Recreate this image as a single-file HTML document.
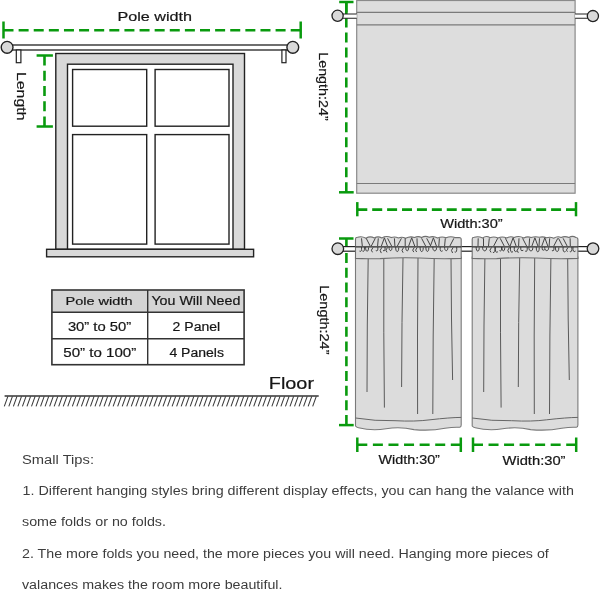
<!DOCTYPE html>
<html><head><meta charset="utf-8"><style>
html,body{margin:0;padding:0;background:#fff;width:600px;height:590px;overflow:hidden}
svg{display:block;will-change:transform;font-family:"Liberation Sans",sans-serif}
</style></head><body>
<svg width="600" height="590" viewBox="0 0 600 590">
<path d="M3.50 30.20L13.50 30.20M18.62 30.20L28.62 30.20M33.73 30.20L43.73 30.20M48.85 30.20L58.85 30.20M63.96 30.20L73.96 30.20M79.08 30.20L89.08 30.20M94.19 30.20L104.19 30.20M109.31 30.20L119.31 30.20M124.43 30.20L134.43 30.20M139.54 30.20L149.54 30.20M154.66 30.20L164.66 30.20M169.77 30.20L179.77 30.20M184.89 30.20L194.89 30.20M200.01 30.20L210.01 30.20M215.12 30.20L225.12 30.20M230.24 30.20L240.24 30.20M245.35 30.20L255.35 30.20M260.47 30.20L270.47 30.20M275.58 30.20L285.58 30.20M290.70 30.20L300.70 30.20" stroke="#099a0e" stroke-width="2.6" fill="none"/>
<line x1="3.5" y1="21.5" x2="3.5" y2="38.5" stroke="#099a0e" stroke-width="2.5"/>
<line x1="300.7" y1="21.5" x2="300.7" y2="38.5" stroke="#099a0e" stroke-width="2.5"/>
<text x="117.5" y="21" font-size="13" textLength="74.5" lengthAdjust="spacingAndGlyphs" fill="#161616"  stroke="#161616" stroke-width="0.2">Pole width</text>
<rect x="8" y="45" width="285" height="5" fill="#fff" stroke="#222" stroke-width="1.3"/>
<rect x="16.3" y="50" width="4.6" height="12.7" fill="#fff" stroke="#222" stroke-width="1.2"/>
<rect x="281.9" y="50" width="4.1" height="12.7" fill="#fff" stroke="#222" stroke-width="1.2"/>
<circle cx="7.1" cy="47.3" r="5.9" fill="#d9d9d9" stroke="#222" stroke-width="1.4"/>
<circle cx="292.8" cy="47.3" r="5.9" fill="#d9d9d9" stroke="#222" stroke-width="1.4"/>
<line x1="36.6" y1="55.5" x2="52.9" y2="55.5" stroke="#099a0e" stroke-width="2.5"/>
<path d="M44.50 55.50L44.50 65.50M44.50 70.75L44.50 80.75M44.50 86.00L44.50 96.00M44.50 101.25L44.50 111.25M44.50 116.50L44.50 126.50" stroke="#099a0e" stroke-width="2.6" fill="none"/>
<line x1="36.6" y1="126.5" x2="52.9" y2="126.5" stroke="#099a0e" stroke-width="2.5"/>
<text transform="translate(16.6,71.9) rotate(90)" font-size="13.5" textLength="48.6" lengthAdjust="spacingAndGlyphs" fill="#161616" stroke="#161616" stroke-width="0.2">Length</text>
<rect x="55.8" y="53.5" width="188.7" height="195.8" fill="#d9d9d9" stroke="#222" stroke-width="1.4"/>
<rect x="67.5" y="64.2" width="165.5" height="185.1" fill="#fff" stroke="#222" stroke-width="1.4"/>
<rect x="72.6" y="69.5" width="74.1" height="56.7" fill="#fff" stroke="#222" stroke-width="1.4"/>
<rect x="155.1" y="69.5" width="73.9" height="56.7" fill="#fff" stroke="#222" stroke-width="1.4"/>
<rect x="72.6" y="134.6" width="74.1" height="109.5" fill="#fff" stroke="#222" stroke-width="1.4"/>
<rect x="155.1" y="134.6" width="73.9" height="109.5" fill="#fff" stroke="#222" stroke-width="1.4"/>
<rect x="46.6" y="249.3" width="207" height="7.5" fill="#d9d9d9" stroke="#222" stroke-width="1.4"/>
<rect x="51.9" y="290" width="192.2" height="22.2" fill="#d4d4d4"/>
<rect x="51.9" y="290" width="192.2" height="74.7" fill="none" stroke="#333" stroke-width="1.6"/>
<line x1="51.9" y1="312.2" x2="244.1" y2="312.2" stroke="#333" stroke-width="1.4"/>
<line x1="51.9" y1="338.7" x2="244.1" y2="338.7" stroke="#333" stroke-width="1.4"/>
<line x1="147.7" y1="290" x2="147.7" y2="364.7" stroke="#333" stroke-width="1.4"/>
<text x="65.5" y="305.2" font-size="11.6" textLength="67" lengthAdjust="spacingAndGlyphs" fill="#161616"  stroke="#161616" stroke-width="0.2">Pole width</text>
<text x="151.4" y="305.1" font-size="12.5" textLength="89" lengthAdjust="spacingAndGlyphs" fill="#161616"  stroke="#161616" stroke-width="0.2">You Will Need</text>
<text x="67.9" y="330.5" font-size="12.4" textLength="63.3" lengthAdjust="spacingAndGlyphs" fill="#161616"  stroke="#161616" stroke-width="0.2">30&#8221; to 50&#8221;</text>
<text x="172.6" y="331" font-size="12.5" textLength="47.6" lengthAdjust="spacingAndGlyphs" fill="#161616"  stroke="#161616" stroke-width="0.2">2 Panel</text>
<text x="63.3" y="356.5" font-size="12.4" textLength="73" lengthAdjust="spacingAndGlyphs" fill="#161616"  stroke="#161616" stroke-width="0.2">50&#8221; to 100&#8221;</text>
<text x="169.4" y="356.7" font-size="12.5" textLength="54.6" lengthAdjust="spacingAndGlyphs" fill="#161616"  stroke="#161616" stroke-width="0.2">4 Panels</text>
<text x="268.8" y="389.4" font-size="15.8" textLength="45.2" lengthAdjust="spacingAndGlyphs" fill="#161616"  stroke="#161616" stroke-width="0.2">Floor</text>
<line x1="4.6" y1="395.9" x2="318.7" y2="395.9" stroke="#333" stroke-width="1.5"/>
<path d="M7.90 396.4L4.30 406.4 M12.44 396.4L8.84 406.4 M16.97 396.4L13.37 406.4 M21.51 396.4L17.91 406.4 M26.04 396.4L22.44 406.4 M30.58 396.4L26.98 406.4 M35.11 396.4L31.51 406.4 M39.65 396.4L36.05 406.4 M44.18 396.4L40.58 406.4 M48.71 396.4L45.11 406.4 M53.25 396.4L49.65 406.4 M57.79 396.4L54.19 406.4 M62.32 396.4L58.72 406.4 M66.85 396.4L63.25 406.4 M71.39 396.4L67.79 406.4 M75.92 396.4L72.33 406.4 M80.46 396.4L76.86 406.4 M84.99 396.4L81.39 406.4 M89.53 396.4L85.93 406.4 M94.06 396.4L90.47 406.4 M98.60 396.4L95.00 406.4 M103.13 396.4L99.53 406.4 M107.67 396.4L104.07 406.4 M112.20 396.4L108.61 406.4 M116.74 396.4L113.14 406.4 M121.27 396.4L117.67 406.4 M125.81 396.4L122.21 406.4 M130.34 396.4L126.75 406.4 M134.88 396.4L131.28 406.4 M139.42 396.4L135.82 406.4 M143.95 396.4L140.35 406.4 M148.49 396.4L144.89 406.4 M153.02 396.4L149.42 406.4 M157.56 396.4L153.96 406.4 M162.09 396.4L158.49 406.4 M166.62 396.4L163.03 406.4 M171.16 396.4L167.56 406.4 M175.70 396.4L172.10 406.4 M180.23 396.4L176.63 406.4 M184.77 396.4L181.17 406.4 M189.30 396.4L185.70 406.4 M193.84 396.4L190.24 406.4 M198.37 396.4L194.77 406.4 M202.91 396.4L199.31 406.4 M207.44 396.4L203.84 406.4 M211.98 396.4L208.38 406.4 M216.51 396.4L212.91 406.4 M221.05 396.4L217.45 406.4 M225.58 396.4L221.98 406.4 M230.12 396.4L226.52 406.4 M234.65 396.4L231.05 406.4 M239.19 396.4L235.59 406.4 M243.72 396.4L240.12 406.4 M248.26 396.4L244.66 406.4 M252.79 396.4L249.19 406.4 M257.33 396.4L253.73 406.4 M261.86 396.4L258.26 406.4 M266.40 396.4L262.80 406.4 M270.93 396.4L267.33 406.4 M275.47 396.4L271.87 406.4 M280.00 396.4L276.40 406.4 M284.54 396.4L280.94 406.4 M289.07 396.4L285.47 406.4 M293.61 396.4L290.00 406.4 M298.14 396.4L294.54 406.4 M302.68 396.4L299.08 406.4 M307.21 396.4L303.61 406.4 M311.75 396.4L308.15 406.4 M316.28 396.4L312.68 406.4" stroke="#3a3a3a" stroke-width="1.05" fill="none"/>
<rect x="356.7" y="0.5" width="218.4" height="192.7" fill="#dddddd" stroke="#8a8a8a" stroke-width="1.2"/>
<line x1="356.7" y1="12.3" x2="575.1" y2="12.3" stroke="#7a7a7a" stroke-width="1.2"/>
<line x1="356.7" y1="24.9" x2="575.1" y2="24.9" stroke="#7a7a7a" stroke-width="1.4"/>
<line x1="356.7" y1="183.5" x2="575.1" y2="183.5" stroke="#7a7a7a" stroke-width="1.1"/>
<path d="M346.30 2.50L346.30 12.50M346.30 17.48L346.30 27.48M346.30 32.47L346.30 42.47M346.30 47.45L346.30 57.45M346.30 62.43L346.30 72.43M346.30 77.42L346.30 87.42M346.30 92.40L346.30 102.40M346.30 107.38L346.30 117.38M346.30 122.37L346.30 132.37M346.30 137.35L346.30 147.35M346.30 152.33L346.30 162.33M346.30 167.32L346.30 177.32M346.30 182.30L346.30 192.30" stroke="#099a0e" stroke-width="2.6" fill="none"/>
<line x1="346.3" y1="2.5" x2="346.3" y2="18" stroke="#099a0e" stroke-width="2.6"/>
<rect x="342" y="14" width="14.7" height="4.3" fill="#fff"/><path d="M342 14H356.7M342 18.3H356.7" stroke="#222" stroke-width="1.1"/>
<rect x="575.1" y="14" width="13" height="4.3" fill="#fff"/><path d="M575.1 14H588M575.1 18.3H588" stroke="#222" stroke-width="1.1"/>
<line x1="339.2" y1="2" x2="353.5" y2="2" stroke="#099a0e" stroke-width="2.5"/>
<line x1="339" y1="192.3" x2="353.7" y2="192.3" stroke="#099a0e" stroke-width="2.5"/>
<circle cx="337.6" cy="15.8" r="5.6" fill="#d9d9d9" stroke="#222" stroke-width="1.3"/>
<circle cx="592.9" cy="16.1" r="5.6" fill="#d9d9d9" stroke="#222" stroke-width="1.3"/>
<text transform="translate(319.4,52.2) rotate(90)" font-size="12.8" textLength="68.5" lengthAdjust="spacingAndGlyphs" fill="#161616" stroke="#161616" stroke-width="0.2">Length:24&#8221;</text>
<path d="M357.30 209.60L367.30 209.60M372.21 209.60L382.21 209.60M387.11 209.60L397.11 209.60M402.02 209.60L412.02 209.60M416.93 209.60L426.93 209.60M431.84 209.60L441.84 209.60M446.74 209.60L456.74 209.60M461.65 209.60L471.65 209.60M476.56 209.60L486.56 209.60M491.46 209.60L501.46 209.60M506.37 209.60L516.37 209.60M521.28 209.60L531.28 209.60M536.19 209.60L546.19 209.60M551.09 209.60L561.09 209.60M566.00 209.60L576.00 209.60" stroke="#099a0e" stroke-width="2.6" fill="none"/>
<line x1="357.3" y1="202.1" x2="357.3" y2="216.3" stroke="#099a0e" stroke-width="2.5"/>
<line x1="576" y1="202.1" x2="576" y2="216.3" stroke="#099a0e" stroke-width="2.5"/>
<text x="440.2" y="227.5" font-size="12" textLength="62.5" lengthAdjust="spacingAndGlyphs" fill="#161616"  stroke="#161616" stroke-width="0.2">Width:30&#8221;</text>
<path d="M346.40 238.30L346.40 248.30M346.40 253.03L346.40 263.03M346.40 267.77L346.40 277.77M346.40 282.50L346.40 292.50M346.40 297.23L346.40 307.23M346.40 311.97L346.40 321.97M346.40 326.70L346.40 336.70M346.40 341.43L346.40 351.43M346.40 356.17L346.40 366.17M346.40 370.90L346.40 380.90M346.40 385.63L346.40 395.63M346.40 400.37L346.40 410.37M346.40 415.10L346.40 425.10" stroke="#099a0e" stroke-width="2.6" fill="none"/>
<line x1="339" y1="238.5" x2="353.5" y2="238.5" stroke="#099a0e" stroke-width="2.5"/>
<line x1="339" y1="425.1" x2="353.7" y2="425.1" stroke="#099a0e" stroke-width="2.5"/>
<rect x="342" y="246.6" width="248" height="4.6" fill="#fff" stroke="#222" stroke-width="1.2"/>
<circle cx="337.8" cy="248.7" r="5.8" fill="#d9d9d9" stroke="#222" stroke-width="1.3"/>
<circle cx="593" cy="248.6" r="5.8" fill="#d9d9d9" stroke="#222" stroke-width="1.3"/>
<text transform="translate(319.9,285.2) rotate(90)" font-size="12.8" textLength="69.3" lengthAdjust="spacingAndGlyphs" fill="#161616" stroke="#161616" stroke-width="0.2">Length:24&#8221;</text>
<path d="M355.5 257 L355.5 426 Q356.5 427.5 358.5 427.8 Q372 431 386 428.8 Q400 426.5 414 429.6 Q430 431.2 445 428.3 Q454 426.8 459.7 427.3 Q461.2 427 461.2 425 L461.2 257 Z" fill="#dcdcdc" stroke="#7a7a7a" stroke-width="1.1"/><path d="M355.5 418 Q375 421.2 395 420.7 Q415 421.8 430 419.8 Q450 417.5 461.2 417.4" fill="none" stroke="#666" stroke-width="1"/><path d="M368.2 258 Q367.0 325.0 367 392" stroke="#5a5a5a" stroke-width="1" fill="none"/><path d="M383.8 258 Q383.5 332.8 384.4 407.6" stroke="#5a5a5a" stroke-width="1" fill="none"/><path d="M403 258 Q401.7 322.5 401.6 387" stroke="#5a5a5a" stroke-width="1" fill="none"/><path d="M418 258 Q417.2 336.0 417.6 414" stroke="#5a5a5a" stroke-width="1" fill="none"/><path d="M434.2 258 Q432.9 336.0 432.8 414" stroke="#5a5a5a" stroke-width="1" fill="none"/><path d="M451 258 Q451.2 319.0 452.6 380" stroke="#5a5a5a" stroke-width="1" fill="none"/><path d="M355.5 258.4 L355.5 239 Q355.5 237.3 357.5 237.3Q361.7 235.9 365.9 238.2Q370.1 235.8 374.3 237.9Q378.0 235.8 381.8 237.9Q386.5 235.3 391.2 237.6Q394.8 236.2 398.5 238.0Q402.0 236.4 405.6 238.3Q410.1 235.9 414.5 237.5Q418.1 235.8 421.6 237.4Q425.4 235.5 429.2 237.3Q433.4 235.7 437.6 238.1Q441.8 236.0 446.1 237.8Q450.6 235.7 455.1 237.6L459.2 237.5 Q461.2 237.5 461.2 239.5 L461.2 258.4 Q440 259.2 420 258 Q400 257.2 380 258.6 Q365 259 355.5 258.4 Z" fill="#dcdcdc" stroke="#6f6f6f" stroke-width="1.1"/><path d="M355.5 246.8 L461.2 246.8" stroke="#2a2a2a" stroke-width="1.2"/><path d="M361.5 238.3 L362.3 246 M366.2 238.3 L370.2 246 M375.3 238.3 L371.3 246 M378.3 238.3 L377.6 246 M381.4 246 L384.4 237.8 L387.4 246 M387.6 238.3 L391.6 246 M394.4 238.3 L394.9 246 M401.4 238.3 L397.4 246 M405.2 238.3 L405.2 246 M408.7 246 L411.7 237.8 L414.7 246 M417.0 238.3 L417.2 246 M421.6 238.3 L425.6 246 M426.7 238.3 L430.7 246 M430.4 246 L433.4 237.8 L436.4 246 M439.4 238.3 L438.8 246 M445.3 238.3 L444.6 246 M453.9 238.3 L449.9 246" stroke="#444" stroke-width="1" fill="none" stroke-linejoin="round"/><path d="M361.5 247 Q362.0 252.6 359.5 251.1 M364.4 247 Q364.9 252.5 362.4 251.0 M365.6 247 C365.3 252.6 368.8 252.6 368.5 247.5 M373.0 247.5 Q370.0 250.5 372.5 252.3 M377.8 247 Q378.3 252.0 375.8 250.5 M381.8 247.5 Q378.8 250.5 381.3 253.1 M385.0 247 Q385.5 252.0 383.0 250.5 M387.5 247.5 Q384.5 250.5 387.0 252.3 M389.1 247 C388.8 251.7 392.2 251.7 391.9 247.5 M395.7 247 C395.4 253.0 399.0 253.0 398.7 247.5 M403.6 247.5 Q400.6 250.5 403.1 252.7 M405.8 247 C405.5 252.0 408.8 252.0 408.5 247.5 M414.3 247.5 Q411.3 250.5 413.8 252.1 M417.2 247.5 Q414.2 250.5 416.7 252.0 M420.1 247 C419.8 253.0 423.5 253.0 423.2 247.5 M425.9 247 C425.6 252.8 429.1 252.8 428.8 247.5 M432.8 247 C432.5 252.1 436.8 252.1 436.5 247.5 M440.2 247 Q439.7 252.8 442.7 250.8 M444.6 247 C444.3 251.8 448.1 251.8 447.8 247.5 M453.1 247.5 Q450.1 250.5 452.6 253.0 M456.7 247 Q457.2 253.4 454.7 251.9" stroke="#3a3a3a" stroke-width="0.95" fill="none"/>
<path d="M472.2 257 L472.2 426 Q473.2 427.5 475.2 427.8 Q488.7 431 502.7 428.8 Q516.7 426.5 530.7 429.6 Q546.7 431.2 561.7 428.3 Q570.7 426.8 576.4 427.3 Q577.9 427 577.9 425 L577.9 257 Z" fill="#dcdcdc" stroke="#7a7a7a" stroke-width="1.1"/><path d="M472.2 418 Q491.7 421.2 511.7 420.7 Q531.7 421.8 546.7 419.8 Q566.7 417.5 577.9 417.4" fill="none" stroke="#666" stroke-width="1"/><path d="M484.9 258 Q483.7 325.0 483.7 392" stroke="#5a5a5a" stroke-width="1" fill="none"/><path d="M500.5 258 Q500.2 332.8 501.09999999999997 407.6" stroke="#5a5a5a" stroke-width="1" fill="none"/><path d="M519.7 258 Q518.4 322.5 518.3000000000001 387" stroke="#5a5a5a" stroke-width="1" fill="none"/><path d="M534.7 258 Q533.9 336.0 534.3000000000001 414" stroke="#5a5a5a" stroke-width="1" fill="none"/><path d="M550.9 258 Q549.6 336.0 549.5 414" stroke="#5a5a5a" stroke-width="1" fill="none"/><path d="M567.7 258 Q567.9 319.0 569.3000000000001 380" stroke="#5a5a5a" stroke-width="1" fill="none"/><path d="M472.2 258.4 L472.2 239 Q472.2 237.3 474.2 237.3Q478.4 236.0 482.6 238.0Q486.3 235.2 490.1 237.7Q494.0 236.2 497.9 238.0Q502.3 235.9 506.7 238.0Q510.4 235.7 514.1 237.5Q519.0 235.3 523.8 238.1Q527.4 236.0 531.1 237.6Q535.2 236.2 539.3 237.3Q542.9 236.3 546.5 237.8Q550.1 236.4 553.7 238.2Q557.4 235.7 561.1 237.4Q565.0 235.9 569.0 237.5Q572.5 235.3 575.9 237.5L575.9 237.5 Q577.9 237.5 577.9 239.5 L577.9 258.4 Q556.7 259.2 536.7 258 Q516.7 257.2 496.7 258.6 Q481.7 259 472.2 258.4 Z" fill="#dcdcdc" stroke="#6f6f6f" stroke-width="1.1"/><path d="M472.2 246.8 L577.9 246.8" stroke="#2a2a2a" stroke-width="1.2"/><path d="M478.2 238.3 L478.0 246 M483.5 238.3 L483.5 246 M489.3 238.3 L488.5 246 M497.7 238.3 L493.7 246 M500.2 238.3 L504.2 246 M505.4 238.3 L509.4 246 M510.1 246 L513.1 237.8 L516.1 246 M519.0 238.3 L518.6 246 M522.6 238.3 L526.6 246 M529.6 238.3 L529.1 246 M531.9 246 L534.9 237.8 L537.9 246 M539.5 238.3 L539.0 246 M541.8 246 L544.8 237.8 L547.8 246 M549.7 238.3 L549.1 246 M557.8 238.3 L553.8 246 M558.5 238.3 L562.5 246 M563.1 238.3 L567.1 246 M570.1 238.3 L570.3 246" stroke="#444" stroke-width="1" fill="none" stroke-linejoin="round"/><path d="M476.2 247 C475.9 252.4 479.5 252.4 479.2 247.5 M482.6 247 C482.3 252.1 486.9 252.1 486.6 247.5 M491.5 247.5 Q488.5 250.5 491.0 252.4 M494.9 247 Q495.4 253.8 492.9 252.3 M495.4 247 Q494.9 253.8 497.9 251.8 M501.5 247 Q502.0 252.1 499.5 250.6 M502.0 247 C501.7 252.1 505.0 252.1 504.7 247.5 M509.4 247.5 Q506.4 250.5 508.9 252.8 M510.5 247 Q510.0 253.7 513.0 251.7 M514.3 247 Q513.8 253.1 516.8 251.1 M518.8 247.5 Q515.8 250.5 518.3 252.8 M520.8 247 Q520.3 252.2 523.3 250.2 M527.2 247 Q527.7 252.6 525.2 251.1 M528.9 247 C528.6 252.2 533.1 252.2 532.8 247.5 M536.3 247 C536.0 253.3 539.5 253.3 539.2 247.5 M542.2 247 Q541.7 251.6 544.7 249.6 M544.7 247 C544.4 251.8 548.9 251.8 548.6 247.5 M553.9 247 Q554.4 252.0 551.9 250.5 M555.4 247 C555.1 252.9 559.1 252.9 558.8 247.5 M563.1 247 Q562.6 253.4 565.6 251.4 M568.0 247.5 Q565.0 250.5 567.5 251.7 M571.8 247 Q572.3 253.0 569.8 251.5 M573.0 247 Q572.5 253.1 575.5 251.1" stroke="#3a3a3a" stroke-width="0.95" fill="none"/>
<path d="M357.30 444.70L367.30 444.70M372.88 444.70L382.88 444.70M388.47 444.70L398.47 444.70M404.05 444.70L414.05 444.70M419.63 444.70L429.63 444.70M435.22 444.70L445.22 444.70M450.80 444.70L460.80 444.70" stroke="#099a0e" stroke-width="2.6" fill="none"/>
<line x1="357.3" y1="437.5" x2="357.3" y2="452" stroke="#099a0e" stroke-width="2.5"/>
<line x1="460.8" y1="437.5" x2="460.8" y2="452" stroke="#099a0e" stroke-width="2.5"/>
<path d="M473.00 444.70L483.00 444.70M488.53 444.70L498.53 444.70M504.07 444.70L514.07 444.70M519.60 444.70L529.60 444.70M535.13 444.70L545.13 444.70M550.67 444.70L560.67 444.70M566.20 444.70L576.20 444.70" stroke="#099a0e" stroke-width="2.6" fill="none"/>
<line x1="473" y1="437.5" x2="473" y2="452" stroke="#099a0e" stroke-width="2.5"/>
<line x1="576.2" y1="437.5" x2="576.2" y2="452" stroke="#099a0e" stroke-width="2.5"/>
<text x="378.5" y="464.3" font-size="12" textLength="61.4" lengthAdjust="spacingAndGlyphs" fill="#161616"  stroke="#161616" stroke-width="0.2">Width:30&#8221;</text>
<text x="502.5" y="464.5" font-size="12" textLength="63" lengthAdjust="spacingAndGlyphs" fill="#161616"  stroke="#161616" stroke-width="0.2">Width:30&#8221;</text>
<text x="22" y="464" font-size="12.5" textLength="72" lengthAdjust="spacingAndGlyphs" fill="#3d3d3d" >Small Tips:</text>
<text x="22.6" y="494.8" font-size="12.5" textLength="551.4" lengthAdjust="spacingAndGlyphs" fill="#3d3d3d" >1. Different hanging styles bring different display effects, you can hang the valance with</text>
<text x="22" y="526" font-size="12.5" textLength="144" lengthAdjust="spacingAndGlyphs" fill="#3d3d3d" >some folds or no folds.</text>
<text x="22" y="557.5" font-size="12.5" textLength="526.8" lengthAdjust="spacingAndGlyphs" fill="#3d3d3d" >2. The more folds you need, the more pieces you will need. Hanging more pieces of</text>
<text x="22" y="589" font-size="12.5" textLength="260.5" lengthAdjust="spacingAndGlyphs" fill="#3d3d3d" >valances makes the room more beautiful.</text>
</svg>
</body></html>
